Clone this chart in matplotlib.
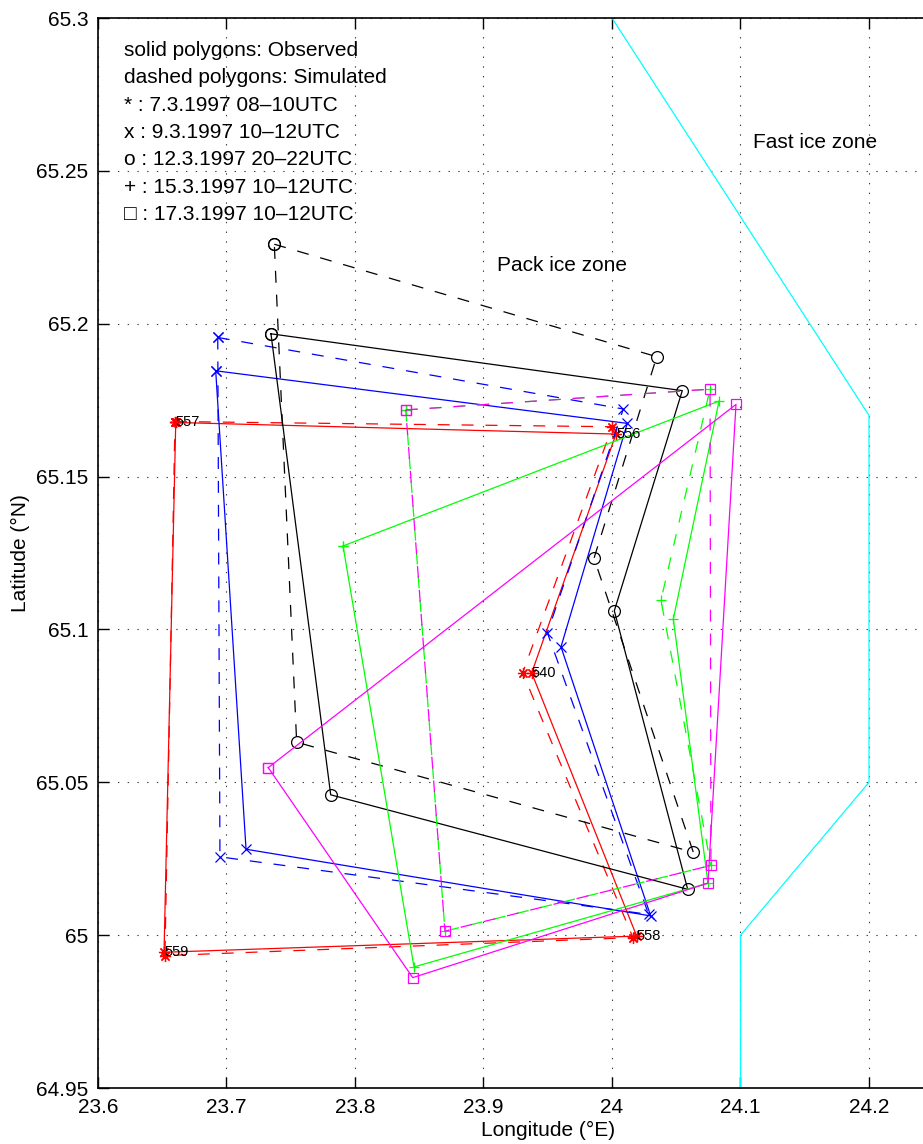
import matplotlib
matplotlib.use('Agg')
import matplotlib.pyplot as plt

plt.rcParams['font.family'] = ['Liberation Sans', 'DejaVu Sans']
plt.rcParams['lines.scale_dashes'] = False

# Buoy array polygons (lon, lat).  *_obs = observed, *_sim = simulated
# 7.3.1997 buoys 557, 556, 540, 558, 559
red_obs_lon = [23.6605, 24.0031, 23.9375, 24.0192, 23.6514]
red_obs_lat = [65.1677, 65.1639, 65.0858, 64.9997, 64.9944]
red_sim_lon = [23.6599, 24.0002, 23.9305, 24.0163, 23.6521]
red_sim_lat = [65.1680, 65.1663, 65.0858, 64.9992, 64.9933]
buoy_ids = ['557', '556', '540', '558', '559']

# 9.3.1997
blue_obs_lon = [23.6916, 24.0119, 23.9603, 24.0301, 23.7152]
blue_obs_lat = [65.1846, 65.1674, 65.0943, 65.0063, 65.0281]
blue_sim_lon = [23.6932, 24.0088, 23.9497, 24.0285, 23.6949]
blue_sim_lat = [65.1955, 65.1721, 65.0989, 65.0068, 65.0256]

# 12.3.1997
black_obs_lon = [23.7346, 24.0547, 24.0018, 24.0589, 23.7811]
black_obs_lat = [65.1967, 65.1781, 65.1061, 65.0150, 65.0459]
black_sim_lon = [23.7372, 24.0348, 23.9860, 24.0633, 23.7546]
black_sim_lat = [65.2260, 65.1892, 65.1233, 65.0271, 65.0631]

# 15.3.1997
green_obs_lon = [23.7907, 24.0833, 24.0477, 24.0747, 23.8459]
green_obs_lat = [65.1273, 65.1747, 65.1034, 65.0170, 64.9896]
green_sim_lon = [23.8395, 24.0763, 24.0381, 24.0770, 23.8700]
green_sim_lat = [65.1718, 65.1786, 65.1096, 65.0228, 65.0013]

# 17.3.1997
mag_obs_lon = [23.7325, 24.0965, 24.0747, 23.8449]
mag_obs_lat = [65.0548, 65.1736, 65.0170, 64.9861]
mag_sim_lon = [23.8395, 24.0763, 24.0770, 23.8700]
mag_sim_lat = [65.1718, 65.1786, 65.0228, 65.0013]

# boundary between pack ice and fast ice
fast_ice_lon = [24.0, 24.2, 24.2, 24.1, 24.1]
fast_ice_lat = [65.3, 65.17, 65.05, 65.0, 64.95]

legend_lines = [
    'solid polygons: Observed',
    'dashed polygons: Simulated',
    '* : 7.3.1997 08\u201310UTC',
    'x : 9.3.1997 10\u201312UTC',
    'o : 12.3.1997 20\u201322UTC',
    '+ : 15.3.1997 10\u201312UTC',
    '\u25a1 : 17.3.1997 10\u201312UTC',
]

xticks = [23.6, 23.7, 23.8, 23.9, 24.0, 24.1, 24.2, 24.3]
xticklabels = ['23.6', '23.7', '23.8', '23.9', '24', '24.1', '24.2', '']
yticks = [64.95, 65.0, 65.05, 65.1, 65.15, 65.2, 65.25, 65.3]
yticklabels = ['64.95', '65', '65.05', '65.1', '65.15', '65.2', '65.25', '65.3']

RED = (1, 0, 0)
BLUE = (0, 0, 1)
GREEN = (0, 1, 0)
MAGENTA = (1, 0, 1)
CYAN = (0, 1, 1)


def polygon(ax, lon, lat, color, marker, ms, dashed=False):
    lon = list(lon) + [lon[0]]
    lat = list(lat) + [lat[0]]
    ls = (0, (8.6, 8.6)) if dashed else '-'
    ax.plot(lon, lat, color=color, linestyle=ls, lw=0.9, marker=marker,
            ms=ms, mew=0.9, mfc='none', mec=color)


fig = plt.figure(figsize=(9.23, 11.44), dpi=100)
ax = fig.add_axes([98 / 923, 56 / 1144, 899.5 / 923, 1070 / 1144])

asterisk = (8, 2, 0)
polygon(ax, red_obs_lon, red_obs_lat, RED, asterisk, 8)
polygon(ax, red_sim_lon, red_sim_lat, RED, asterisk, 8, dashed=True)
polygon(ax, blue_obs_lon, blue_obs_lat, BLUE, 'x', 6.5)
polygon(ax, blue_sim_lon, blue_sim_lat, BLUE, 'x', 6.5, dashed=True)
polygon(ax, black_obs_lon, black_obs_lat, 'k', 'o', 8.5)
polygon(ax, black_sim_lon, black_sim_lat, 'k', 'o', 8.5, dashed=True)
polygon(ax, green_obs_lon, green_obs_lat, GREEN, '+', 7.5)
polygon(ax, green_sim_lon, green_sim_lat, GREEN, '+', 7.5, dashed=True)
polygon(ax, mag_obs_lon, mag_obs_lat, MAGENTA, 's', 6.5)
polygon(ax, mag_sim_lon, mag_sim_lat, MAGENTA, 's', 6.5, dashed=True)

ax.plot(fast_ice_lon, fast_ice_lat, color=CYAN, lw=0.9)

for lon, lat, name in zip(red_obs_lon, red_obs_lat, buoy_ids):
    ax.text(lon, lat, name, fontsize=10.5, ha='left', va='center')

for i, line in enumerate(legend_lines):
    ax.text(23.6202, 65.2876 - 0.00894 * i, line, fontsize=15, va='baseline')

ax.text(23.9105, 65.2172, 'Pack ice zone', fontsize=15, va='baseline')
ax.text(24.1097, 65.2575, 'Fast ice zone', fontsize=15, va='baseline')

ax.set_xlim(23.6, 24.3)
ax.set_ylim(64.95, 65.3)
ax.set_xticks(xticks)
ax.set_xticklabels(xticklabels)
ax.set_yticks(yticks)
ax.set_yticklabels(yticklabels)
ax.tick_params(direction='in', length=8, width=1, top=True, right=True,
               labelsize=15, pad=7)
for s in ax.spines.values():
    s.set_linewidth(1.2)
ax.grid(True, color='0.25', linestyle=(0, (1, 6)), lw=0.8)

ax.set_xlabel('Longitude (\u00b0E)', fontsize=15, labelpad=3)
ax.set_ylabel('Latitude (\u00b0N)', fontsize=15, labelpad=4)

fig.savefig('out.png', dpi=100)
